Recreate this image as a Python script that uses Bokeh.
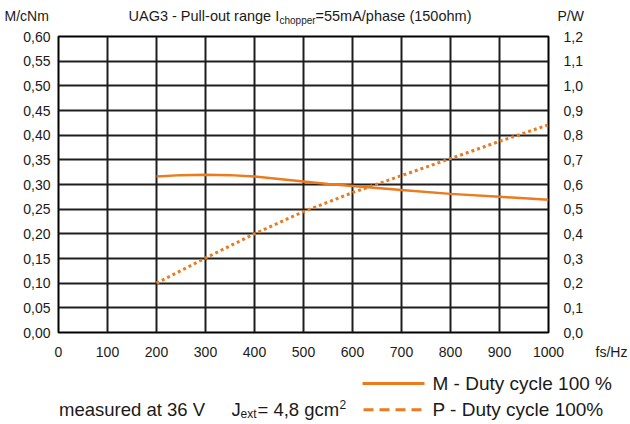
from bokeh.plotting import figure
from bokeh.layouts import column
from bokeh.models import Range1d, LinearAxis, FixedTicker, ColumnDataSource
from bokeh.core.properties import value
from bokeh.embed import file_html
from bokeh.resources import INLINE

# ---------------- data ----------------
freq_m = [200, 250, 300, 350, 400, 450, 500, 550, 600, 650, 700, 800, 900, 1000]
torque_m = [0.316, 0.319, 0.320, 0.319, 0.316, 0.311, 0.306, 0.301, 0.297,
            0.293, 0.289, 0.281, 0.275, 0.269]
freq_p = [200, 300, 400, 500, 600, 700, 800, 900, 1000]
power_p = [0.200, 0.302, 0.400, 0.490, 0.567, 0.636, 0.705, 0.775, 0.842]

x_ticks = [0, 100, 200, 300, 400, 500, 600, 700, 800, 900, 1000]
x_tick_labels = ["0", "100", "200", "300", "400", "500", "600", "700", "800",
                 "900", "1000"]
x_unit = "fs/Hz"
m_ticks = [0.0, 0.05, 0.1, 0.15, 0.2, 0.25, 0.3, 0.35, 0.4, 0.45, 0.5, 0.55, 0.6]
m_tick_labels = ["0,00", "0,05", "0,10", "0,15", "0,20", "0,25", "0,30",
                 "0,35", "0,40", "0,45", "0,50", "0,55", "0,60"]
p_ticks = [0.0, 0.1, 0.2, 0.3, 0.4, 0.5, 0.6, 0.7, 0.8, 0.9, 1.0, 1.1, 1.2]
p_tick_labels = ["0,0", "0,1", "0,2", "0,3", "0,4", "0,5", "0,6",
                 "0,7", "0,8", "0,9", "1,0", "1,1", "1,2"]

legend_m = "M - Duty cycle 100 %"
legend_p = "P - Duty cycle 100%"

# ---------------- style / layout ----------------
FONT = "Liberation Sans"
ORANGE = "#EC7A1F"
TXT = "#1a1a1a"
W = 630
FL, FR = 58, 548            # frame left/right on page
PX = (FR - FL) / 1000.0     # px per Hz
MAIN_H = 312                # main chart canvas: page y 28..340


def txt(fig, x, y, text, size, align="left", baseline="middle"):
    fig.text(x=[x], y=[y], text=[text], text_font=value(FONT),
             text_font_size=value(size), text_color=TXT,
             text_align=align, text_baseline=baseline)


def bare(fig):
    fig.outline_line_color = None
    for g in fig.grid:
        g.visible = False


# ---------- header (page y 0..28) ----------
hdr = figure(width=W, height=28, output_backend="svg", toolbar_location=None,
             x_range=Range1d(0, W), y_range=Range1d(28, 0),
             x_axis_location=None, y_axis_location=None,
             min_border_left=0, min_border_right=0, min_border_top=0,
             min_border_bottom=0, frame_align=False)
bare(hdr)
txt(hdr, 4, 15, "M/cNm", "14px")
txt(hdr, 557, 15, "P/W", "14px")
txt(hdr, 128, 15, "UAG3 - Pull-out range I", "14.5px")
txt(hdr, 279, 19.5, "chopper", "10px")
txt(hdr, 315, 15, "=55mA/phase (150ohm)", "14.5px")

# ---------- main chart ----------
p = figure(width=W, height=MAIN_H, output_backend="svg", toolbar_location=None,
           x_range=Range1d(0, 1000), y_range=Range1d(0, 0.6),
           x_axis_location=None, y_axis_location="left",
           min_border_left=FL, min_border_right=W - FR, min_border_top=8,
           min_border_bottom=MAIN_H - 304, frame_align=False)
p.extra_y_ranges = {"p": Range1d(0, 1.2)}
p.outline_line_color = "black"
p.outline_line_width = 2

lax = p.yaxis[0]
lax.ticker = FixedTicker(ticks=m_ticks)
lax.major_label_overrides = dict(zip(m_ticks, m_tick_labels))
lax.major_label_standoff = 8

rax = LinearAxis(y_range_name="p", ticker=FixedTicker(ticks=p_ticks))
rax.major_label_overrides = dict(zip(p_ticks, p_tick_labels))
rax.major_label_standoff = 15
p.add_layout(rax, "right")

for ax in (lax, rax):
    ax.axis_line_color = None
    ax.major_tick_out = 0
    ax.major_tick_in = 0
    ax.minor_tick_line_color = None
    ax.major_label_text_font = FONT
    ax.major_label_text_font_size = "14px"
    ax.major_label_text_color = TXT

p.xgrid[0].ticker = FixedTicker(ticks=x_ticks)
p.ygrid[0].ticker = FixedTicker(ticks=m_ticks)
for g in (p.xgrid[0], p.ygrid[0]):
    g.grid_line_color = "#1e1e1e"
    g.grid_line_width = 2

src_m = ColumnDataSource(dict(x=freq_m, y=torque_m))
src_p = ColumnDataSource(dict(x=freq_p, y=power_p))
p.line("x", "y", source=src_m, line_color=ORANGE, line_width=2.5)
p.line("x", "y", source=src_p, line_color=ORANGE, line_width=3,
       line_dash="3 3", y_range_name="p")

# ---------- footer (page y 340..424) with the x axis ----------
FOOT_TOP = 28 + MAIN_H
FTOP = FOOT_TOP + 23   # estimated page y of footer frame top (axis panel above it)
ftr = figure(width=W, height=424 - FOOT_TOP, output_backend="svg",
             toolbar_location=None,
             x_range=Range1d(-FL / PX, 1000 + (W - FL - 1000 * PX) / PX),
             y_range=Range1d(424, FTOP),
             x_axis_location="above", y_axis_location=None,
             min_border_left=0, min_border_right=0, min_border_top=10,
             min_border_bottom=0, frame_align=False)
bare(ftr)


def hz(px):
    return (px - FL) / PX


unit_pos = hz(611)
xax = ftr.xaxis[0]
xax.ticker = FixedTicker(ticks=x_ticks + [unit_pos])
xax.major_label_overrides = dict(zip(x_ticks + [unit_pos], x_tick_labels + [x_unit]))
xax.axis_line_color = None
xax.major_tick_out = 0
xax.major_tick_in = 0
xax.minor_tick_line_color = None
xax.major_label_text_font = FONT
xax.major_label_text_font_size = "14px"
xax.major_label_text_color = TXT
xax.major_label_standoff = 7

# legend marks
ftr.line(x=[hz(362), hz(424)], y=[381, 381], line_color=ORANGE, line_width=3)
ftr.line(x=[hz(363), hz(424)], y=[408.5, 408.5], line_color=ORANGE, line_width=3,
         line_dash="10 6")
txt(ftr, hz(432), 381, legend_m, "19px")
txt(ftr, hz(432), 408.5, legend_p, "19px")

txt(ftr, hz(58.5), 408.5, "measured at 36 V", "18.5px")
txt(ftr, hz(231), 408.5, "J", "18.5px")
txt(ftr, hz(240), 412.5, "ext", "12px")
txt(ftr, hz(257), 408.5, "= 4,8 gcm", "18.5px")
txt(ftr, hz(339), 403, "2", "12px")

layout = column(hdr, p, ftr, spacing=0)
open("out.html", "w").write(file_html(layout, INLINE))
